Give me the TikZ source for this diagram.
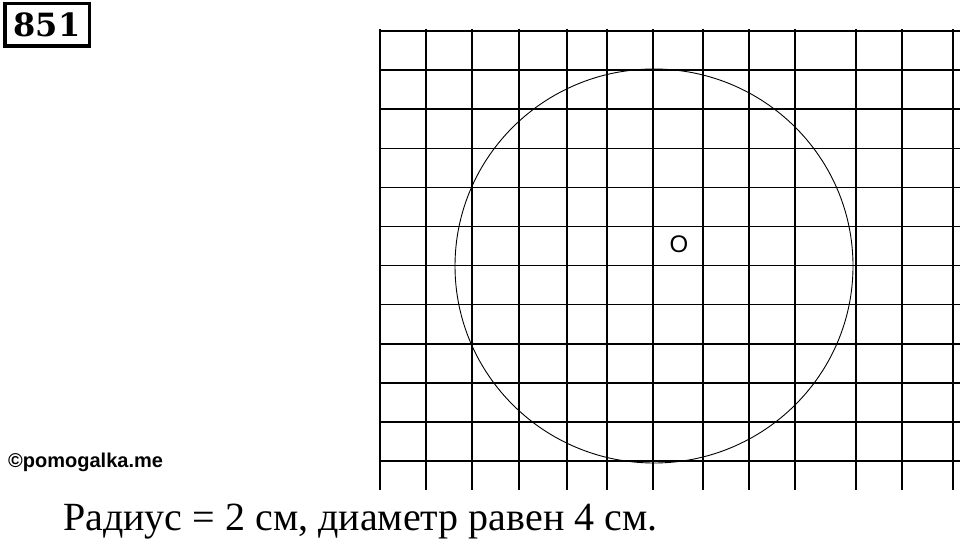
\documentclass[tikz,border=0pt]{standalone}
\usepackage{fontspec}
\setmainfont{Liberation Serif}
\newfontfamily\arialfont{Liberation Sans}
\newfontfamily\numfont{DejaVu Serif}
\usetikzlibrary{positioning}

\begin{document}
\begin{tikzpicture}[x = 1pt, y = -1pt, gridline/.style = {line width = 1.4pt}]
    \useasboundingbox (0,0) rectangle (960,540);
    % squared paper
    \foreach \gx in {380,426,472,519,567,607,653,703,749,795,856,902,953}
        \draw[gridline] (\gx,29) -- (\gx,490);
    \foreach \gy in {0,...,11}
        \draw[gridline] (380,{31+39.1*\gy}) -- (960,{31+39.1*\gy});
    % circle
    \coordinate (O) at (654,266);
    \draw[line width = .9pt] (O) ellipse [x radius = 199pt, y radius = 197pt];
    \node[font = \arialfont\fontsize{24}{24}\selectfont] (olabel) at (679,244.5) {O};
    \node[draw, line width = 3.5pt, minimum width = 84.5pt, minimum height = 42.5pt, font = \numfont\bfseries\fontsize{32}{32}\selectfont] (task) at (47,25) {851};
    \node[anchor = base west, inner sep = 0pt, font = \arialfont\bfseries\fontsize{20}{20}\selectfont] (site) at (8,467) {©pomogalka.me};
    \node[anchor = base west, inner sep = 0pt, font = \fontsize{40}{40}\selectfont] (answer) at (63,530) {Радиус = 2 см, диаметр равен 4 см.};
\end{tikzpicture}
\end{document}
